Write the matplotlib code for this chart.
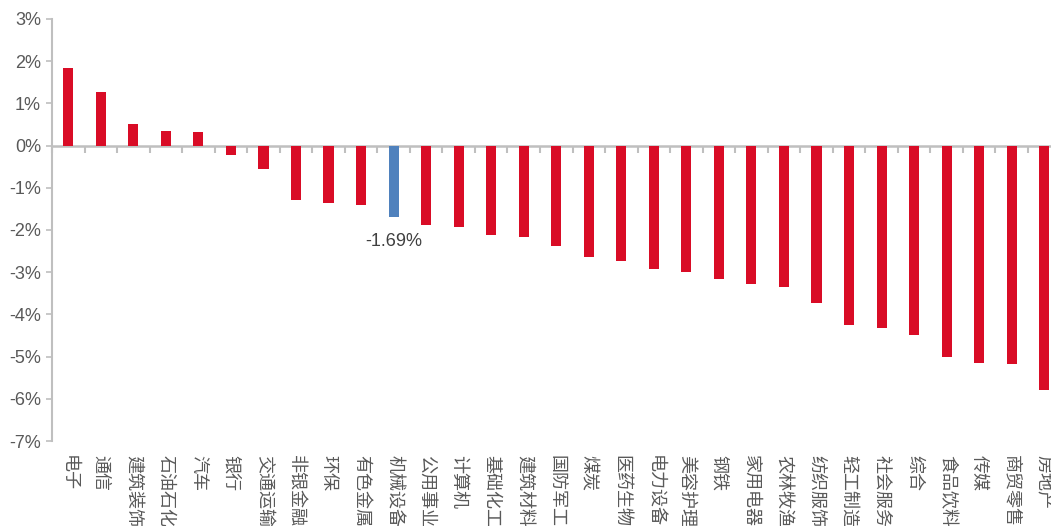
import matplotlib
matplotlib.use("Agg")
import matplotlib.pyplot as plt
import numpy as np

categories = ["电子", "通信", "建筑装饰", "石油石化", "汽车", "银行", "交通运输", "非银金融",
              "环保", "有色金属", "机械设备", "公用事业", "计算机", "基础化工", "建筑材料",
              "国防军工", "煤炭", "医药生物", "电力设备", "美容护理", "钢铁", "家用电器",
              "农林牧渔", "纺织服饰", "轻工制造", "社会服务", "综合", "食品饮料", "传媒",
              "商贸零售", "房地产"]
values = [1.85, 1.28, 0.51, 0.35, 0.33, -0.23, -0.56, -1.30,
          -1.36, -1.40, -1.69, -1.89, -1.93, -2.12, -2.17,
          -2.39, -2.63, -2.73, -2.93, -2.99, -3.15, -3.28,
          -3.34, -3.73, -4.26, -4.33, -4.48, -5.02, -5.14,
          -5.17, -5.78]
highlight = "机械设备"
yticks = [3, 2, 1, 0, -1, -2, -3, -4, -5, -6, -7]

RED = "#D90C26"
BLUE = "#4F81BD"
GRAY = "#BFBFBF"
TXT = "#595959"

plt.rcParams['font.family'] = ['Liberation Sans', 'Noto Sans CJK SC', 'DejaVu Sans']

fig = plt.figure(figsize=(10.51, 5.26), dpi=100)
ax = fig.add_axes([52/1051, 85/526, 1008.5/1051, 422/526])

x = np.arange(len(categories))
colors = [BLUE if c == highlight else RED for c in categories]
ax.bar(x, values, width=0.31, color=colors, zorder=3)

ax.set_xlim(-0.5, len(categories) - 0.5)
ax.set_ylim(-7, 3)
ax.set_yticks(yticks)
ax.set_yticklabels([f"{v}%" for v in yticks], fontsize=13, color=TXT)
ax.tick_params(axis='y', length=4, width=1.2, color=GRAY, pad=4)

ax.set_xticks(x)
ax.set_xticklabels(categories, rotation=270, fontsize=13, color=TXT,
                   family=['Noto Sans CJK SC', 'DejaVu Sans'], va='top', ha='center')
ax.tick_params(axis='x', length=0, pad=10)

for s in ['top', 'right', 'bottom']:
    ax.spines[s].set_visible(False)
ax.spines['left'].set_color(GRAY)
ax.spines['left'].set_linewidth(1.5)

# zero line with category-boundary ticks (pointing downward)
zero_frac = (0 - (-7)) / 10
sec = ax.secondary_xaxis(zero_frac)
sec.set_xticks(np.arange(-0.5, len(categories), 1.0))
sec.set_xticklabels([])
sec.tick_params(axis='x', length=5, width=1.5, color=GRAY, direction='in',
                labeltop=False, labelbottom=False)
for s in sec.spines.values():
    s.set_color(GRAY)
    s.set_linewidth(1.8)

hi = categories.index(highlight)
ax.annotate(f"{values[hi]:.2f}%", xy=(hi, values[hi]), xytext=(0, -25),
            textcoords='offset pixels', ha='center', va='center',
            fontsize=13, color="#404040")

fig.savefig("out.png", dpi=100)
